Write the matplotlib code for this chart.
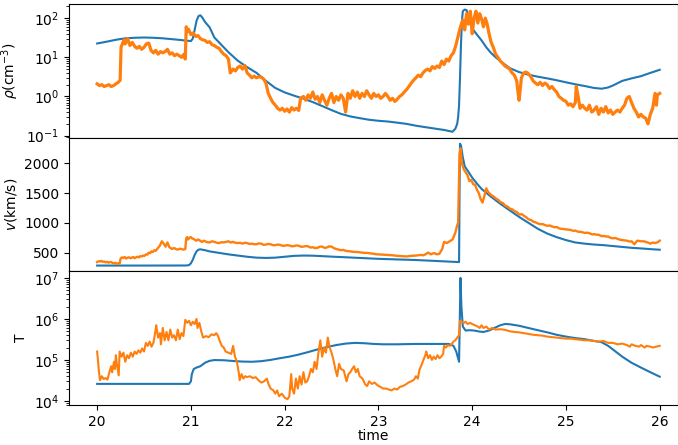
import numpy as np
import matplotlib
matplotlib.use("Agg")
import matplotlib.pyplot as plt

# ---- model (smooth) and observed (noisy) profiles, as (time, value) pairs ----
rho_model = [
    (20.0, 22.5), (20.1, 25), (20.2, 28), (20.3, 30.5), (20.4, 31.5), (20.5, 32),
    (20.6, 31.5), (20.7, 30.5), (20.8, 29), (20.9, 27.5), (20.95, 26.5), (21.0, 26),
    (21.02, 30), (21.04, 50), (21.06, 85), (21.08, 112), (21.1, 118), (21.12, 105),
    (21.15, 80), (21.2, 58), (21.25, 32), (21.3, 24), (21.4, 13.5), (21.5, 8.2),
    (21.6, 5.6), (21.7, 4.0), (21.8, 2.5), (21.9, 1.65), (22.0, 1.27), (22.1, 1.05),
    (22.2, 0.88), (22.3, 0.72), (22.4, 0.57), (22.5, 0.45), (22.6, 0.36), (22.7, 0.31),
    (22.8, 0.28), (22.9, 0.255), (23.0, 0.24), (23.1, 0.23), (23.2, 0.215), (23.3, 0.2),
    (23.4, 0.18), (23.5, 0.165), (23.6, 0.152), (23.7, 0.14), (23.79, 0.126),
    (23.82, 0.15), (23.84, 0.2), (23.85, 0.3), (23.86, 0.6), (23.87, 3), (23.88, 20),
    (23.89, 80), (23.9, 150), (23.92, 165), (23.94, 160), (23.96, 110), (23.98, 75),
    (24.0, 55), (24.05, 38), (24.1, 27), (24.15, 18), (24.2, 13), (24.25, 10),
    (24.3, 8), (24.4, 5.3), (24.5, 4.2), (24.6, 3.6), (24.7, 3.2), (24.8, 2.9),
    (24.9, 2.6), (25.0, 2.3), (25.1, 2.05), (25.2, 1.85), (25.3, 1.65), (25.38, 1.58),
    (25.45, 1.7), (25.5, 1.9), (25.6, 2.5), (25.7, 2.9), (25.8, 3.3), (25.9, 4.0),
    (26.0, 4.8),
]

rho_obs = [
    (20.0, 2.1), (20.025, 1.9), (20.05, 2.0), (20.075, 1.8), (20.1, 1.9), (20.125, 2.0),
    (20.15, 1.8), (20.175, 1.9), (20.2, 2.1), (20.225, 2.3), (20.245, 2.6),
    (20.255, 18), (20.275, 24), (20.29, 28), (20.3, 22), (20.325, 30), (20.35, 20),
    (20.375, 24), (20.4, 19), (20.425, 17), (20.45, 19), (20.475, 16), (20.5, 18),
    (20.525, 22), (20.55, 23), (20.575, 15), (20.6, 13), (20.625, 15), (20.65, 12),
    (20.675, 14), (20.7, 13), (20.725, 14), (20.75, 16), (20.775, 12), (20.8, 13),
    (20.825, 11), (20.85, 12), (20.875, 11), (20.9, 10), (20.925, 12), (20.94, 9),
    (20.95, 60), (20.96, 45), (20.975, 52), (21.0, 38), (21.025, 42), (21.05, 34),
    (21.075, 36), (21.1, 30), (21.125, 28), (21.15, 27), (21.175, 24), (21.2, 25),
    (21.225, 21), (21.25, 20), (21.275, 18), (21.3, 17), (21.325, 14), (21.35, 12),
    (21.375, 11), (21.4, 9), (21.42, 4), (21.45, 5), (21.475, 4.5), (21.5, 5.5),
    (21.525, 6), (21.55, 5), (21.575, 6.2), (21.6, 4), (21.625, 3.5), (21.65, 3),
    (21.675, 3.3), (21.7, 3.0), (21.725, 3.2), (21.75, 3.1), (21.775, 2.8), (21.8, 2.2),
    (21.825, 1.2), (21.85, 0.9), (21.875, 0.7), (21.9, 0.6), (21.925, 0.5), (21.95, 0.45),
    (21.975, 0.5), (22.0, 0.42), (22.025, 0.48), (22.05, 0.4), (22.075, 0.52), (22.1, 0.45),
    (22.125, 0.5), (22.15, 0.44), (22.17, 0.9), (22.2, 1.0), (22.225, 0.8), (22.25, 1.1),
    (22.275, 0.9), (22.3, 1.3), (22.325, 0.85), (22.35, 1.0), (22.375, 0.7), (22.4, 1.1),
    (22.425, 0.8), (22.45, 0.6), (22.475, 0.9), (22.5, 1.2), (22.525, 0.7), (22.55, 1.0),
    (22.575, 0.8), (22.6, 1.1), (22.625, 0.9), (22.65, 0.4), (22.675, 1.2), (22.7, 0.9),
    (22.725, 1.4), (22.75, 1.0), (22.775, 1.3), (22.8, 0.9), (22.825, 1.2), (22.85, 1.0),
    (22.875, 1.4), (22.9, 1.1), (22.925, 0.9), (22.95, 1.2), (22.975, 1.0), (23.0, 1.1),
    (23.025, 0.9), (23.05, 1.0), (23.075, 1.2), (23.1, 1.0), (23.125, 0.8), (23.15, 0.9),
    (23.175, 0.75), (23.2, 0.85), (23.225, 1.0), (23.25, 1.1), (23.275, 1.3), (23.3, 1.5),
    (23.325, 1.8), (23.35, 2.2), (23.375, 2.6), (23.4, 3.0), (23.425, 3.5), (23.45, 3.2),
    (23.475, 4.0), (23.5, 4.6), (23.525, 5.0), (23.55, 4.5), (23.575, 5.8), (23.6, 5.2),
    (23.625, 6.0), (23.65, 5.5), (23.675, 8.0), (23.7, 6.5), (23.725, 9.0), (23.75, 8.0),
    (23.775, 11), (23.8, 13), (23.825, 20), (23.85, 35), (23.875, 60), (23.9, 90),
    (23.92, 50), (23.94, 130), (23.96, 70), (23.98, 150), (24.0, 40), (24.02, 100),
    (24.04, 150), (24.06, 75), (24.08, 130), (24.1, 95), (24.12, 60), (24.14, 100),
    (24.16, 70), (24.18, 40), (24.2, 25), (24.225, 18), (24.25, 12), (24.275, 10),
    (24.3, 8), (24.325, 7), (24.35, 6), (24.375, 5.5), (24.4, 5), (24.425, 4),
    (24.45, 3.5), (24.475, 2.5), (24.49, 1.2), (24.5, 0.8), (24.525, 3), (24.55, 4),
    (24.575, 4.2), (24.6, 3.8), (24.625, 3.2), (24.65, 2.5), (24.675, 2.2), (24.7, 2.0),
    (24.725, 2.3), (24.75, 1.9), (24.775, 2.2), (24.8, 2.0), (24.825, 1.6), (24.85, 1.8),
    (24.875, 1.5), (24.9, 1.3), (24.925, 1.0), (24.95, 0.9), (24.975, 0.8), (25.0, 0.75),
    (25.025, 0.6), (25.05, 0.65), (25.075, 0.55), (25.1, 0.7), (25.11, 1.8), (25.13, 1.0),
    (25.15, 0.5), (25.175, 0.6), (25.2, 0.5), (25.225, 0.45), (25.25, 0.6), (25.275, 0.4),
    (25.3, 0.45), (25.325, 0.55), (25.35, 0.35), (25.375, 0.5), (25.4, 0.4), (25.425, 0.55),
    (25.45, 0.38), (25.475, 0.45), (25.5, 0.35), (25.525, 0.4), (25.55, 0.45), (25.575, 0.4),
    (25.6, 0.5), (25.625, 0.6), (25.65, 0.9), (25.675, 1.0), (25.7, 0.7), (25.725, 0.5),
    (25.75, 0.4), (25.775, 0.3), (25.8, 0.35), (25.825, 0.3), (25.85, 0.28), (25.875, 0.2),
    (25.9, 0.35), (25.925, 0.5), (25.95, 1.2), (25.965, 0.6), (25.975, 1.1), (26.0, 1.2),
]

v_model = [
    (20.0, 282), (20.5, 282), (20.95, 283), (20.98, 290), (21.0, 320), (21.02, 380),
    (21.04, 460), (21.06, 520), (21.08, 548), (21.1, 555), (21.15, 540), (21.2, 520),
    (21.3, 495), (21.4, 470), (21.5, 450), (21.6, 430), (21.7, 415), (21.8, 410),
    (21.9, 415), (22.0, 430), (22.1, 445), (22.2, 450), (22.3, 448), (22.4, 440),
    (22.5, 432), (22.6, 425), (22.8, 410), (23.0, 395), (23.2, 385), (23.4, 375),
    (23.6, 360), (23.8, 345), (23.86, 340), (23.865, 1500), (23.87, 2330), (23.88, 2300),
    (23.9, 2100), (23.92, 1950), (23.95, 1880), (24.0, 1760), (24.05, 1660), (24.1, 1570),
    (24.2, 1440), (24.3, 1320), (24.4, 1210), (24.5, 1100), (24.6, 1000), (24.7, 900),
    (24.8, 820), (24.9, 760), (25.0, 710), (25.1, 670), (25.2, 650), (25.3, 635),
    (25.4, 625), (25.5, 610), (25.6, 595), (25.7, 580), (25.8, 570), (25.9, 558),
    (26.0, 548),
]

v_obs = [
    (20.0, 340), (20.015, 355), (20.03, 350), (20.045, 360), (20.06, 345), (20.075, 350),
    (20.09, 335), (20.105, 345), (20.12, 330), (20.135, 340), (20.15, 340), (20.165, 325),
    (20.18, 320), (20.195, 330), (20.21, 310), (20.225, 320), (20.24, 315), (20.25, 400),
    (20.265, 420), (20.28, 410), (20.295, 425), (20.31, 400), (20.325, 415), (20.34, 420),
    (20.355, 405), (20.37, 415), (20.385, 425), (20.4, 405), (20.415, 420), (20.43, 430),
    (20.445, 420), (20.46, 440), (20.475, 435), (20.49, 450), (20.505, 445), (20.52, 470),
    (20.535, 465), (20.55, 500), (20.565, 490), (20.58, 520), (20.595, 510), (20.61, 540),
    (20.625, 530), (20.64, 560), (20.655, 590), (20.67, 620), (20.69, 690), (20.71, 650),
    (20.73, 600), (20.75, 670), (20.77, 590), (20.785, 575), (20.8, 560), (20.815, 575),
    (20.83, 570), (20.845, 555), (20.86, 550), (20.88, 565), (20.9, 560), (20.92, 550),
    (20.94, 560), (20.95, 740), (20.96, 760), (20.97, 720), (20.985, 750), (21.0, 760),
    (21.015, 735), (21.03, 730), (21.045, 710), (21.06, 700), (21.075, 720), (21.09, 710),
    (21.105, 690), (21.12, 680), (21.135, 700), (21.15, 690), (21.175, 675), (21.2, 670),
    (21.225, 690), (21.25, 680), (21.275, 665), (21.3, 660), (21.325, 675), (21.35, 670),
    (21.375, 680), (21.4, 690), (21.425, 670), (21.45, 680), (21.475, 665), (21.5, 660),
    (21.525, 665), (21.55, 650), (21.575, 665), (21.6, 660), (21.625, 645), (21.65, 650),
    (21.675, 640), (21.7, 640), (21.725, 655), (21.75, 650), (21.775, 630), (21.8, 635),
    (21.825, 645), (21.85, 640), (21.875, 625), (21.9, 625), (21.925, 635), (21.95, 630),
    (21.975, 615), (22.0, 615), (22.025, 625), (22.05, 620), (22.075, 605), (22.1, 610),
    (22.125, 620), (22.15, 615), (22.175, 598), (22.2, 600), (22.225, 610), (22.25, 605),
    (22.275, 585), (22.3, 590), (22.325, 575), (22.35, 580), (22.375, 600), (22.4, 600),
    (22.425, 580), (22.45, 585), (22.475, 605), (22.5, 600), (22.525, 575), (22.55, 560),
    (22.575, 550), (22.6, 540), (22.625, 545), (22.65, 530), (22.675, 525), (22.7, 520),
    (22.725, 515), (22.75, 510), (22.775, 510), (22.8, 505), (22.825, 500), (22.85, 495),
    (22.875, 495), (22.9, 490), (22.925, 485), (22.95, 480), (22.975, 472), (23.0, 470),
    (23.05, 465), (23.1, 460), (23.15, 455), (23.2, 445), (23.25, 440), (23.3, 435),
    (23.35, 445), (23.4, 450), (23.45, 460), (23.48, 455), (23.5, 470), (23.53, 500),
    (23.56, 470), (23.58, 485), (23.6, 490), (23.62, 470), (23.65, 480), (23.68, 560),
    (23.7, 680), (23.73, 660), (23.76, 690), (23.79, 720), (23.82, 830), (23.84, 960),
    (23.85, 1000), (23.865, 2150), (23.875, 2250), (23.89, 2000), (23.91, 1900),
    (23.93, 1850), (23.95, 1800), (23.97, 1700), (23.99, 1720), (24.01, 1650),
    (24.03, 1640), (24.05, 1560), (24.07, 1500), (24.09, 1400), (24.11, 1340),
    (24.13, 1450), (24.15, 1580), (24.17, 1520), (24.2, 1470), (24.23, 1440),
    (24.26, 1400), (24.28, 1385), (24.3, 1350), (24.33, 1330), (24.35, 1290),
    (24.38, 1270), (24.4, 1240), (24.43, 1225), (24.45, 1200), (24.48, 1175),
    (24.5, 1140), (24.53, 1145), (24.55, 1120), (24.58, 1090), (24.6, 1060),
    (24.63, 1045), (24.65, 1020), (24.68, 1005), (24.7, 990), (24.73, 975),
    (24.75, 980), (24.78, 960), (24.8, 950), (24.83, 955), (24.85, 940), (24.88, 925),
    (24.9, 930), (24.93, 905), (24.95, 900), (24.98, 895), (25.0, 890), (25.03, 885),
    (25.05, 880), (25.08, 865), (25.1, 870), (25.13, 850), (25.15, 850), (25.18, 840),
    (25.2, 830), (25.23, 835), (25.25, 825), (25.28, 805), (25.3, 810), (25.33, 800),
    (25.35, 800), (25.38, 775), (25.4, 780), (25.43, 770), (25.45, 770), (25.48, 745),
    (25.5, 740), (25.53, 745), (25.55, 730), (25.58, 715), (25.6, 710), (25.63, 705),
    (25.65, 700), (25.68, 685), (25.7, 690), (25.73, 640), (25.76, 700), (25.8, 690),
    (25.83, 690), (25.85, 680), (25.88, 665), (25.9, 650), (25.93, 670), (25.95, 660),
    (25.98, 675), (26.0, 700),
]

T_model = [
    (20.0, 2.6e4), (20.98, 2.6e4), (21.0, 3e4), (21.01, 4.5e4), (21.03, 6e4),
    (21.06, 6.5e4), (21.1, 7e4), (21.15, 8.5e4), (21.2, 9.5e4), (21.25, 9.9e4),
    (21.35, 9.8e4), (21.45, 9.4e4), (21.55, 9.1e4), (21.65, 9.0e4), (21.75, 9.3e4),
    (21.85, 1e5), (21.95, 1.1e5), (22.05, 1.2e5), (22.15, 1.35e5), (22.25, 1.55e5),
    (22.35, 1.8e5), (22.45, 2.05e5), (22.55, 2.3e5), (22.65, 2.5e5), (22.75, 2.6e5),
    (22.85, 2.55e5), (22.95, 2.45e5), (23.05, 2.4e5), (23.2, 2.4e5), (23.4, 2.45e5),
    (23.6, 2.45e5), (23.75, 2.45e5), (23.8, 2.2e5), (23.83, 1.6e5), (23.86, 9e4),
    (23.87, 2e6), (23.875, 1e7), (23.885, 2e6), (23.9, 6.5e5), (23.93, 5.2e5),
    (23.97, 5.3e5), (24.02, 5.2e5), (24.08, 4.9e5), (24.12, 4.8e5), (24.18, 5.2e5),
    (24.25, 6.2e5), (24.3, 7e5), (24.35, 7.5e5), (24.4, 7.4e5), (24.5, 6.8e5),
    (24.6, 6e5), (24.7, 5.3e5), (24.8, 4.7e5), (24.9, 4.1e5), (25.0, 3.7e5),
    (25.1, 3.4e5), (25.2, 3.2e5), (25.3, 2.9e5), (25.38, 2.7e5), (25.45, 2.2e5),
    (25.5, 1.8e5), (25.6, 1.2e5), (25.7, 8.5e4), (25.8, 6.5e4), (25.9, 5e4),
    (26.0, 3.9e4),
]

T_obs = [
    (20.0, 1.6e5), (20.01, 9e4), (20.02, 5e4), (20.03, 3.2e4), (20.05, 4e4), (20.07, 3.4e4),
    (20.09, 3.6e4), (20.11, 3.3e4), (20.13, 5e4), (20.15, 7e4), (20.16, 5e4), (20.18, 9e4),
    (20.19, 6e4), (20.2, 1.3e5), (20.21, 8e4), (20.23, 4.2e4), (20.24, 1.6e5), (20.26, 1.2e5),
    (20.28, 1.5e5), (20.3, 9e4), (20.32, 1.3e5), (20.34, 1.1e5), (20.36, 1.5e5), (20.38, 1.2e5),
    (20.4, 1.6e5), (20.42, 1.4e5), (20.44, 1.7e5), (20.46, 1.5e5), (20.48, 1.9e5), (20.5, 1.6e5),
    (20.52, 2.6e5), (20.54, 2.2e5), (20.56, 2.8e5), (20.58, 2.1e5), (20.6, 2.6e5), (20.62, 4.8e5),
    (20.63, 7e5), (20.65, 3.5e5), (20.67, 4.5e5), (20.68, 2.4e5), (20.7, 6e5), (20.72, 3e5),
    (20.74, 4.8e5), (20.76, 3e5), (20.78, 5.5e5), (20.8, 3.5e5), (20.82, 4e5), (20.84, 3e5),
    (20.86, 5.5e5), (20.88, 3.2e5), (20.9, 4.5e5), (20.92, 3.8e5), (20.94, 9.5e5), (20.96, 8e5),
    (20.98, 9e5), (21.0, 7e5), (21.02, 8.5e5), (21.04, 7.5e5), (21.06, 1e6), (21.07, 6e5),
    (21.09, 8e5), (21.11, 5e5), (21.13, 3.5e5), (21.16, 3.8e5), (21.19, 3.6e5), (21.22, 4.2e5),
    (21.25, 4e5), (21.27, 4.5e5), (21.29, 3.8e5), (21.31, 2.8e5), (21.33, 2.2e5), (21.35, 2e5),
    (21.37, 1.6e5), (21.4, 1.5e5), (21.43, 1.4e5), (21.45, 2.2e5), (21.47, 1.2e5), (21.49, 9e4),
    (21.51, 5e4), (21.52, 3.2e4), (21.54, 4.5e4), (21.56, 3.5e4), (21.58, 4e4), (21.6, 3.8e4),
    (21.63, 4e4), (21.66, 3.6e4), (21.69, 3.8e4), (21.72, 3.2e4), (21.75, 2.8e4), (21.78, 3e4),
    (21.81, 3.5e4), (21.83, 2.5e4), (21.85, 2e4), (21.88, 1.8e4), (21.9, 1.5e4), (21.92, 1.8e4),
    (21.94, 1.3e4), (21.97, 1.5e4), (22.0, 1.2e4), (22.03, 1.1e4), (22.05, 1.3e4), (22.07, 4.5e4),
    (22.08, 2e4), (22.1, 1.5e4), (22.12, 3.5e4), (22.14, 2e4), (22.16, 4e4), (22.18, 2.5e4),
    (22.2, 5e4), (22.22, 2.8e4), (22.24, 3e4), (22.26, 4e4), (22.28, 6e4), (22.3, 5e4),
    (22.32, 9e4), (22.34, 6e4), (22.36, 1.5e5), (22.38, 3e5), (22.4, 1.2e5), (22.42, 2e5),
    (22.44, 1.5e5), (22.46, 3.5e5), (22.48, 2e5), (22.5, 1.5e5), (22.52, 1e5), (22.54, 6e4),
    (22.56, 4e4), (22.58, 8e4), (22.6, 6e4), (22.63, 5.5e4), (22.66, 3e4), (22.68, 4.5e4),
    (22.7, 5e4), (22.72, 6e4), (22.74, 7e4), (22.76, 5e4), (22.78, 6e4), (22.8, 4e4),
    (22.83, 3.5e4), (22.86, 2.5e4), (22.88, 2.3e4), (22.9, 3e4), (22.93, 2.6e4), (22.96, 2.8e4),
    (22.99, 2.4e4), (23.02, 2.2e4), (23.05, 2e4), (23.08, 2e4), (23.11, 1.9e4), (23.14, 1.8e4),
    (23.17, 2e4), (23.2, 1.9e4), (23.23, 2.2e4), (23.26, 2.3e4), (23.29, 2.5e4), (23.32, 2.8e4),
    (23.35, 3e4), (23.38, 3.3e4), (23.4, 4e4), (23.42, 3.5e4), (23.44, 6e4), (23.46, 7.5e4),
    (23.48, 1e5), (23.5, 1.3e5), (23.51, 1.6e5), (23.53, 1.1e5), (23.55, 1.3e5), (23.57, 1.0e5),
    (23.59, 1.2e5), (23.61, 1.05e5), (23.63, 1.3e5), (23.65, 1.1e5), (23.67, 1.2e5), (23.69, 1.4e5),
    (23.7, 2.2e5), (23.72, 2e5), (23.74, 2.3e5), (23.76, 2.2e5), (23.78, 2.4e5), (23.8, 2.8e5),
    (23.82, 3e5), (23.84, 3.5e5), (23.86, 4e5), (23.87, 9e5), (23.89, 8.5e5), (23.91, 8e5),
    (23.93, 8.5e5), (23.95, 7.5e5), (23.98, 8e5), (24.0, 7.5e5), (24.03, 7e5), (24.06, 6.5e5),
    (24.08, 6e5), (24.1, 7e5), (24.12, 6e5), (24.15, 6.5e5), (24.18, 5.5e5), (24.21, 6e5),
    (24.25, 5.5e5), (24.3, 5.6e5), (24.35, 5.4e5), (24.4, 5e5), (24.45, 4.8e5), (24.5, 4.7e5),
    (24.55, 4.5e5), (24.6, 4.3e5), (24.65, 4.1e5), (24.7, 4e5), (24.75, 3.9e5), (24.8, 3.7e5),
    (24.85, 3.6e5), (24.9, 3.5e5), (24.95, 3.4e5), (25.0, 3.3e5), (25.05, 3.3e5), (25.1, 3.2e5),
    (25.15, 3.1e5), (25.2, 3e5), (25.25, 3e5), (25.3, 2.9e5), (25.35, 2.8e5), (25.4, 2.9e5),
    (25.45, 2.6e5), (25.5, 2.6e5), (25.55, 2.4e5), (25.6, 2.5e5), (25.65, 2.3e5), (25.68, 2.1e5),
    (25.7, 2.4e5), (25.74, 2.2e5), (25.78, 2.1e5), (25.8, 2.3e5), (25.84, 2.0e5), (25.86, 2.2e5),
    (25.9, 2.1e5), (25.93, 2.0e5), (25.96, 2.1e5), (26.0, 2.2e5),
]

ylabels = [r"$\rho$(cm$^{-3}$)", r"$v$(km/s)", "T"]
obs_widths = [2.3, 1.7, 1.5]


def split(pairs):
    arr = np.array(pairs, dtype=float)
    return arr[:, 0], arr[:, 1]


fig, axes = plt.subplots(3, 1, sharex=True, figsize=(6.78, 4.45), dpi=100)
fig.subplots_adjust(left=0.1018, right=0.9993, top=0.991, bottom=0.0899, hspace=0)

panels = [(rho_model, rho_obs), (v_model, v_obs), (T_model, T_obs)]
for ax, (mod, obs), lab, lw in zip(axes, panels, ylabels, obs_widths):
    tm, ym = split(mod)
    to, yo = split(obs)
    ax.plot(tm, ym, color="C0", lw=1.5)
    ax.plot(to, yo, color="C1", lw=lw)
    ax.set_ylabel(lab)

axes[0].set_yscale("log")
axes[0].set_ylim(0.089, 229)
axes[1].set_ylim(185, 2431)
axes[1].set_yticks([500, 1000, 1500, 2000])
axes[2].set_yscale("log")
axes[2].set_ylim(10 ** 3.9, 10 ** 7.16)

axes[2].set_xlim(19.7, 26.19)
axes[2].set_xticks([20, 21, 22, 23, 24, 25, 26])
axes[2].set_xlabel("time", labelpad=0.5)

fig.savefig("out.png", dpi=100)
